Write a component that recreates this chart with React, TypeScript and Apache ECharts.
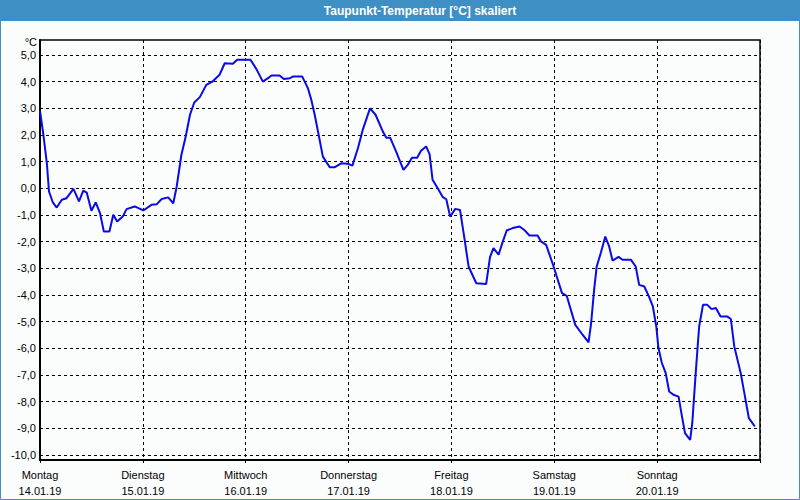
import React, { useEffect, useRef } from "react";
import * as echarts from "echarts";

const TITLE = "Taupunkt-Temperatur [°C] skaliert";
const UNIT = "°C";
const DAY_NAMES = ["Montag", "Dienstag", "Mittwoch", "Donnerstag", "Freitag", "Samstag", "Sonntag"];
const DAY_DATES = ["14.01.19", "15.01.19", "16.01.19", "17.01.19", "18.01.19", "19.01.19", "20.01.19"];

// hours since Monday 14.01.19 00:00
const HOURS = [
  0, 0.8, 1.6, 2.1, 3.0, 3.9, 5.1, 6.2, 7.8, 9.1, 10.1, 10.9, 12.0, 13.0, 14.0, 14.9, 16.2, 17.1, 18.0, 19.3,
  20.2, 22.1, 24.1, 26.0, 27.2, 28.4, 29.9, 31.1, 31.9, 33.0, 34.0, 35.0, 36.0, 37.3, 38.8, 40.2, 41.9, 43.1,
  45.0, 46.0, 49.1, 50.5, 52.0, 53.2, 54.0, 55.9, 56.9, 58.3, 59.0, 61.2, 62.5, 63.3, 64.1, 65.1, 66.0, 67.6,
  68.7, 70.3, 71.8, 72.9, 74.2, 75.3, 77.0, 78.3, 80.0, 80.8, 81.7, 83.1, 84.8, 85.8, 86.8, 88.0, 88.9, 90.1,
  90.9, 91.6, 92.8, 94.0, 94.8, 95.7, 96.9, 98.0, 99.0, 100.0, 101.8, 104.1, 105.0, 105.8, 107.0, 108.0, 108.9,
  110.3, 111.9, 113.0, 114.2, 116.1, 116.9, 118.1, 119.8, 121.8, 122.9, 124.9, 126.6, 128.0, 128.6, 129.3,
  129.9, 130.9, 131.9, 132.8, 133.6, 135.0, 135.9, 137.9, 139.0, 139.8, 141.0, 142.1, 143.0, 143.8, 144.3,
  145.1, 146.0, 146.8, 147.8, 149.0, 149.8, 150.5, 151.7, 152.2, 153.0, 153.8, 154.7, 155.7, 156.7, 157.7,
  158.8, 160.4, 161.2, 162.0, 163.5, 164.5, 165.4, 166.8,
];

const DEWPOINT = [
  2.9, 2.0, 0.94, -0.12, -0.53, -0.72, -0.43, -0.37, -0.02, -0.49, -0.09, -0.16, -0.84, -0.53, -0.93, -1.62,
  -1.62, -0.99, -1.24, -1.06, -0.78, -0.68, -0.83, -0.62, -0.6, -0.4, -0.34, -0.56, 0.07, 1.26, 1.94, 2.76,
  3.22, 3.42, 3.88, 4.0, 4.26, 4.69, 4.67, 4.82, 4.82, 4.47, 4.0, 4.13, 4.23, 4.23, 4.1, 4.13, 4.19, 4.19,
  3.76, 3.32, 2.76, 1.94, 1.19, 0.79, 0.79, 0.94, 0.92, 0.85, 1.51, 2.19, 3.0, 2.76, 2.13, 1.9, 1.9, 1.38,
  0.69, 0.88, 1.15, 1.15, 1.41, 1.57, 1.28, 0.32, 0.0, -0.33, -0.41, -1.06, -0.77, -0.81, -1.84, -2.93,
  -3.56, -3.59, -2.58, -2.24, -2.49, -1.99, -1.58, -1.49, -1.43, -1.56, -1.77, -1.77, -1.99, -2.12, -2.91,
  -3.93, -4.03, -5.12, -5.49, -5.78, -5.05, -3.8, -2.93, -2.4, -1.81, -2.18, -2.71, -2.57, -2.68, -2.68,
  -2.93, -3.62, -3.68, -4.06, -4.43, -5.18, -5.99, -6.55, -6.93, -7.62, -7.74, -7.81, -8.56, -9.18, -9.43,
  -8.8, -6.93, -5.18, -4.37, -4.37, -4.53, -4.49, -4.81, -4.81, -4.9, -5.93, -6.93, -7.81, -8.62, -8.93,
];

const Y_MIN = -10;
const Y_MAX = 5;

export default function App() {
  const ref = useRef<HTMLDivElement>(null);

  useEffect(() => {
    if (!ref.current) return;
    const chart = echarts.init(ref.current, null, { renderer: "svg" });
    const font = "Liberation Sans, Arial, sans-serif";
    const pxPerUnit = 400 / (Y_MAX - Y_MIN);
    const outerMin = Y_MIN - 5 / pxPerUnit;
    const outerMax = Y_MAX + 15 / pxPerUnit;

    chart.setOption({
      animation: false,
      backgroundColor: "#fbfdfc",
      textStyle: { fontFamily: font },
      graphic: [
        { type: "rect", shape: { x: 0, y: 0, width: 800, height: 21 }, style: { fill: "#3d8fc4" }, silent: true },
        {
          type: "rect",
          shape: { x: 0.5, y: 0.5, width: 799, height: 499 },
          style: { fill: "none", stroke: "#3d8fc4", lineWidth: 1 },
          silent: true,
        },
        {
          type: "text",
          x: 420,
          y: 11,
          style: {
            text: TITLE,
            fill: "#ffffff",
            font: "bold 12px Liberation Sans, Arial, sans-serif",
            textAlign: "center",
            textVerticalAlign: "middle",
          },
        },
        {
          type: "text",
          x: 37,
          y: 42,
          style: {
            text: UNIT,
            fill: "#000000",
            font: "11px Liberation Sans, Arial, sans-serif",
            textAlign: "right",
            textVerticalAlign: "middle",
          },
        },
      ],
      grid: [
        { left: 40, top: 40, right: 40, bottom: 40, show: true, borderColor: "#000", borderWidth: 1.5, backgroundColor: "transparent" },
        { left: 40, top: 55, right: 40, bottom: 45 },
      ],
      xAxis: [
        {
          type: "value",
          gridIndex: 0,
          min: 0,
          max: 168,
          interval: 24,
          axisLine: { show: true, onZero: false, lineStyle: { color: "#000", width: 2 } },
          axisTick: { show: true, length: 3, lineStyle: { color: "#000" } },
          splitLine: { show: true, lineStyle: { color: "#000", type: [3, 3], width: 1 } },
          axisLabel: {
            margin: 7,
            color: "#000",
            fontSize: 11,
            lineHeight: 16,
            fontFamily: font,
            formatter: (v: number) => {
              const i = Math.round(v / 24);
              return i < DAY_NAMES.length ? `${DAY_NAMES[i]}\n${DAY_DATES[i]}` : "";
            },
          },
        },
        { type: "value", gridIndex: 1, min: 0, max: 168, show: false },
      ],
      yAxis: [
        {
          type: "value",
          gridIndex: 0,
          min: outerMin,
          max: outerMax,
          axisLine: { show: true, onZero: false, lineStyle: { color: "#000", width: 2 } },
          axisTick: { show: false },
          axisLabel: { show: false },
          splitLine: { show: false },
        },
        {
          type: "value",
          gridIndex: 1,
          min: Y_MIN,
          max: Y_MAX,
          interval: 1,
          axisLine: { show: false },
          axisTick: { show: false },
          splitLine: { show: true, lineStyle: { color: "#000", type: [3, 3], width: 1 } },
          axisLabel: {
            margin: 4,
            color: "#000",
            fontSize: 11,
            fontFamily: font,
            formatter: (v: number) => v.toFixed(1).replace(".", ","),
          },
        },
      ],
      series: [
        {
          type: "line",
          xAxisIndex: 0,
          yAxisIndex: 0,
          data: HOURS.map((h, i) => [h, DEWPOINT[i]]),
          showSymbol: false,
          lineStyle: { color: "#0a0ae6", width: 2 },
          silent: true,
        },
      ],
    });

    return () => chart.dispose();
  }, []);

  return (
    <div
      ref={ref}
      style={{ position: "fixed", left: 0, top: 0, width: 800, height: 500 }}
    />
  );
}
